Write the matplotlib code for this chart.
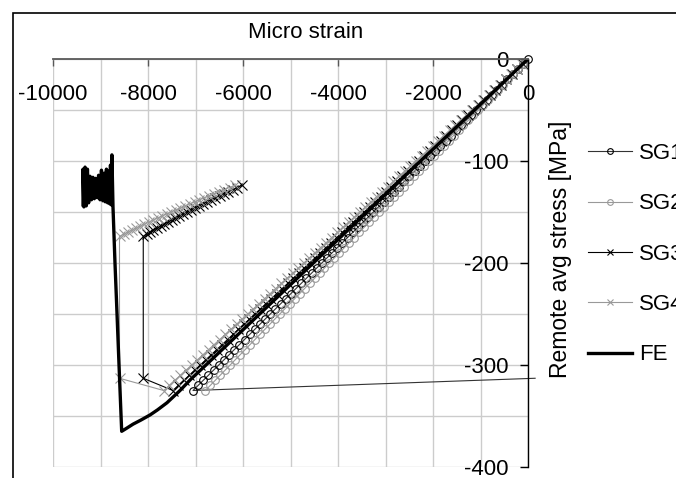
import matplotlib.pyplot as plt
from matplotlib.ticker import MultipleLocator
from matplotlib.patches import Rectangle

plt.rcParams['font.family'] = ['Liberation Sans', 'DejaVu Sans']
plt.rcParams['font.size'] = 16
plt.rcParams['axes.unicode_minus'] = False

# remote stress during loading (same for every gauge), MPa
stress_load = [0, -5, -10, -15, -20, -25, -30, -35, -40, -45, -50, -55, -60, -65,
               -70, -75, -80, -85, -90, -95, -100, -105, -110, -115, -120, -125,
               -130, -135, -140, -145, -150, -155, -160, -165, -170, -175, -180,
               -185, -190, -195, -200, -205, -210, -215, -220, -225, -230, -235,
               -240, -245, -250, -255, -260, -265, -270, -275, -280, -285, -290,
               -295, -300, -305, -310, -315, -320, -325]

# strain gauge readings during loading, micro strain
sg1_load = [0, -109, -217, -326, -434, -543, -651, -760, -868, -977, -1085, -1194,
            -1302, -1411, -1519, -1628, -1736, -1845, -1953, -2062, -2170, -2279,
            -2387, -2496, -2604, -2713, -2821, -2930, -3038, -3147, -3255, -3364,
            -3472, -3581, -3689, -3798, -3906, -4015, -4123, -4232, -4340, -4449,
            -4557, -4666, -4774, -4883, -4991, -5100, -5208, -5317, -5425, -5534,
            -5642, -5751, -5859, -5968, -6076, -6185, -6293, -6402, -6510, -6619,
            -6727, -6836, -6944, -7053]
sg2_load = [0, -105, -209, -314, -418, -523, -627, -732, -836, -941, -1045, -1150,
            -1254, -1359, -1463, -1568, -1672, -1777, -1881, -1986, -2090, -2195,
            -2299, -2404, -2508, -2613, -2717, -2822, -2926, -3031, -3135, -3240,
            -3344, -3449, -3553, -3658, -3762, -3867, -3971, -4076, -4180, -4285,
            -4389, -4494, -4598, -4703, -4807, -4912, -5016, -5121, -5225, -5330,
            -5434, -5539, -5643, -5748, -5852, -5957, -6061, -6166, -6270, -6375,
            -6479, -6584, -6688, -6793]
sg3_load = [0, -115, -230, -345, -460, -575, -690, -805, -920, -1035, -1150, -1265,
            -1380, -1495, -1610, -1725, -1840, -1955, -2070, -2185, -2300, -2415,
            -2530, -2645, -2760, -2875, -2990, -3105, -3220, -3335, -3450, -3565,
            -3680, -3795, -3910, -4025, -4140, -4255, -4370, -4485, -4600, -4715,
            -4830, -4945, -5060, -5175, -5290, -5405, -5520, -5635, -5750, -5865,
            -5980, -6095, -6210, -6325, -6440, -6555, -6670, -6785, -6900, -7015,
            -7130, -7245, -7360, -7475]
sg4_load = [0, -118, -236, -354, -472, -590, -708, -826, -944, -1062, -1180, -1298,
            -1416, -1534, -1652, -1770, -1888, -2006, -2124, -2242, -2360, -2478,
            -2596, -2714, -2832, -2950, -3068, -3186, -3304, -3422, -3540, -3658,
            -3776, -3894, -4012, -4130, -4248, -4366, -4484, -4602, -4720, -4838,
            -4956, -5074, -5192, -5310, -5428, -5546, -5664, -5782, -5900, -6018,
            -6136, -6254, -6372, -6490, -6608, -6726, -6844, -6962, -7080, -7198,
            -7316, -7434, -7552, -7670]

# after failure
stress_tail = [-313, -174, -172, -170, -168, -166, -164, -162, -160, -158, -156,
               -154, -152, -150, -148, -146, -144, -142, -140, -138, -136, -134,
               -132, -130, -128, -126, -124]
sg3_tail = [-8100, -8100, -8030, -7958, -7885, -7811, -7736, -7660, -7583, -7505,
            -7426, -7346, -7265, -7183, -7100, -7016, -6931, -6845, -6758, -6670,
            -6581, -6491, -6400, -6308, -6215, -6121, -6026]
sg4_tail = [-8600, -8600, -8515, -8429, -8342, -8254, -8165, -8075, -7984, -7892,
            -7799, -7705, -7610, -7514, -7417, -7319, -7220, -7120, -7019, -6917,
            -6814, -6710, -6605, -6499, -6392, -6284, -6175]
sg1_tail_strain = [150]
sg1_tail_stress = [-313]

# FE prediction
fe_strain = [0, -2260, -4520, -6780, -7100, -7326, -7600, -7800, -7958, -8150,
             -8315, -8450, -8554, -8575, -8610, -8653, -8695, -8737, -8760, -8772,
             -8790, -8805, -8830, -8850, -8875, -8900, -8925, -8950, -8980, -9010,
             -9040, -9070, -9100, -9130, -9160, -9190, -9220, -9250, -9275, -9300,
             -9325, -9350, -9368, -9368]
fe_stress = [0, -100, -200, -300, -314, -325, -337, -344, -349, -354,
             -358, -362, -365, -341, -300, -249, -200, -145, -94, -143,
             -104, -142, -110, -141, -108, -140, -112, -139, -109, -138,
             -114, -136, -117, -137, -116, -138, -115, -141, -108, -144,
             -106, -145, -108, -143]

fig = plt.figure(figsize=(6.76, 4.78), dpi=100)
ax = fig.add_axes([53 / 676, 11 / 478, 475 / 676, 408 / 478])

n1 = len(sg1_load)
ax.plot(sg1_load + sg1_tail_strain, stress_load + sg1_tail_stress, color='#333333',
        lw=0.8, marker='o', ms=5.5, mfc='none', mec='black', mew=0.8,
        markevery=slice(0, n1), clip_on=False, label='SG1')
ax.plot(sg2_load, stress_load, color='#999999', lw=0.8, marker='o', ms=5.5,
        mfc='none', mec='#999999', mew=0.8, label='SG2')
ax.plot(sg3_load + sg3_tail, stress_load + stress_tail, color='black', lw=0.8,
        marker='x', ms=6.5, mew=0.8, label='SG3')
ax.plot(sg4_load + sg4_tail, stress_load + stress_tail, color='#999999', lw=0.8,
        marker='x', ms=6.5, mew=0.8, label='SG4')
ax.plot(fe_strain, fe_stress, color='black', lw=2.4, label='FE')

ax.set_xlim(-10000, 0)
ax.set_ylim(-400, 0)
ax.xaxis.set_major_locator(MultipleLocator(2000))
ax.xaxis.set_minor_locator(MultipleLocator(1000))
ax.yaxis.set_major_locator(MultipleLocator(100))
ax.yaxis.set_minor_locator(MultipleLocator(50))
ax.grid(which='both', color='#cccccc', lw=1.0)
ax.set_axisbelow(True)

ax.xaxis.tick_top()
ax.yaxis.tick_right()
ax.tick_params(which='minor', length=0)
ax.tick_params(axis='x', which='major', direction='in', length=5, width=1,
               color='#595959', pad=-33)
ax.tick_params(axis='y', which='major', direction='in', length=5.5, width=1,
               pad=-14)
plt.setp(ax.get_yticklabels(), ha='right')

ax.spines['left'].set_visible(False)
ax.spines['bottom'].set_visible(False)
ax.spines['top'].set_color('#595959')
ax.spines['top'].set_linewidth(1.3)
ax.spines['right'].set_linewidth(1.0)

fig.text(306 / 676, 1 - 33 / 478, 'Micro strain', ha='center', va='center')
fig.text(560 / 676, 1 - 249 / 478, 'Remote avg stress [MPa]', rotation=90,
         ha='center', va='center', fontsize=16.5)

fig.legend(loc='upper left', bbox_to_anchor=(588 / 676, 1 - 143 / 478),
           frameon=False, handlelength=2.0, handletextpad=0.3, labelspacing=1.32,
           borderpad=0, borderaxespad=0, markerscale=0.75)

fig.patches.append(Rectangle((13 / 676, -0.5), 2, 0.5 + 1 - 13 / 478,
                             transform=fig.transFigure, fill=False,
                             edgecolor='black', lw=1.2))

fig.savefig('out.png', dpi=100)
